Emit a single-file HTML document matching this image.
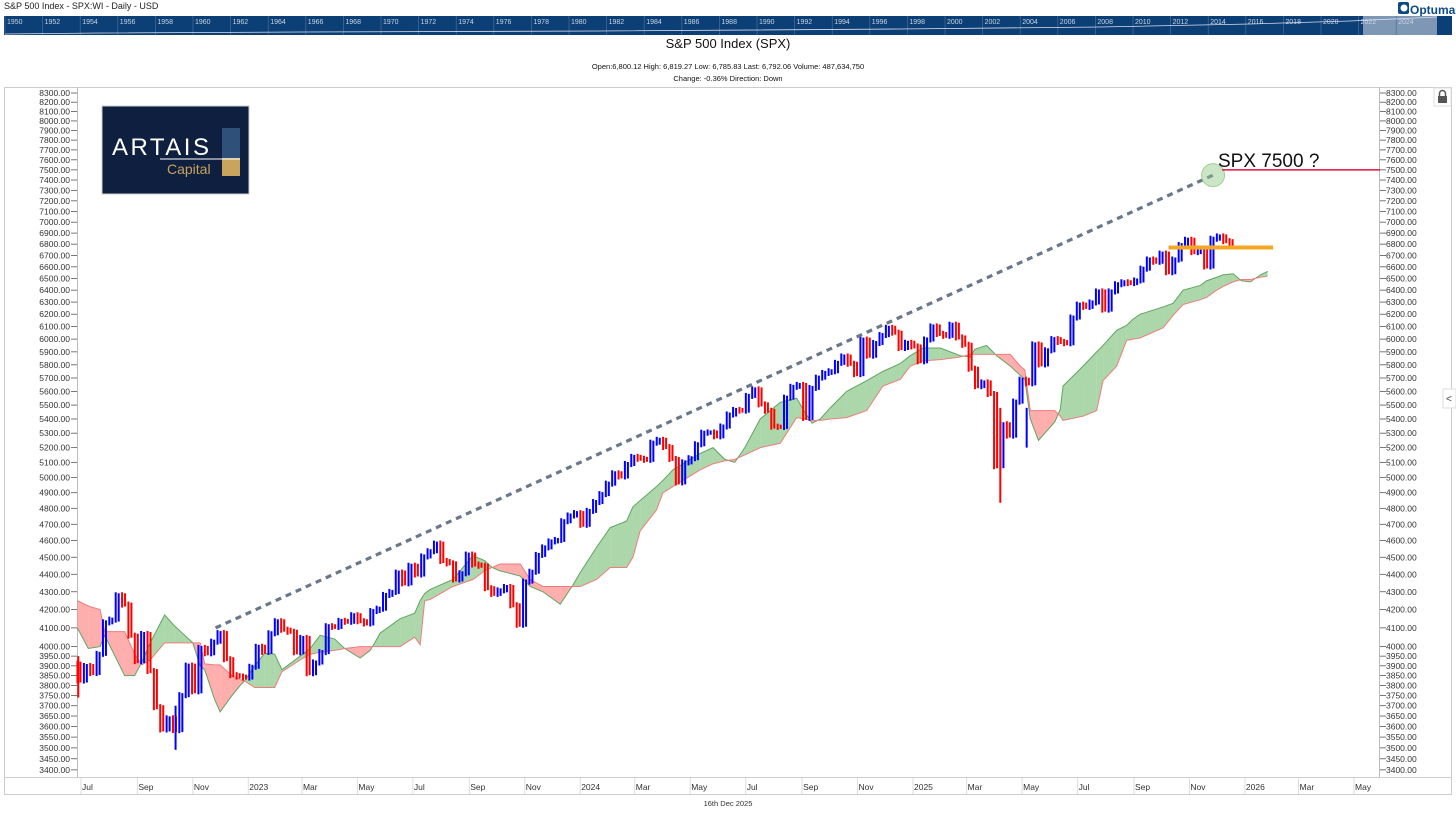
<!DOCTYPE html>
<html><head><meta charset="utf-8"><style>
body{margin:0;background:#fff;width:1456px;height:816px;overflow:hidden;font-family:"Liberation Sans",sans-serif}
svg{display:block}
</style></head><body>
<svg id="c" width="1456" height="816" viewBox="0 0 1456 816" xmlns="http://www.w3.org/2000/svg">
<text x="4" y="9" font-size="9" fill="#222">S&amp;P 500 Index - SPX:WI - Daily - USD</text>
<g>
<rect x="1398" y="2" width="11" height="12" rx="2" fill="#0b4a8a"/><circle cx="1404" cy="8" r="3.5" fill="#fff"/>
<text x="1410" y="14" font-size="12" font-weight="bold" fill="#0b4a8a">Optuma</text></g>
<g id="nav"><rect x="4" y="16" width="1448" height="19" fill="#0c3f75"/>
<rect x="1363" y="16" width="74" height="19" fill="#7d97b5"/></g>
<text x="728" y="48" text-anchor="middle" font-size="13" fill="#111">S&amp;P 500 Index (SPX)</text>
<text x="728" y="69" text-anchor="middle" font-size="7.5" fill="#111">Open:6,800.12   High: 6,819.27   Low: 6,785.83   Last: 6,792.06   Volume: 487,634,750</text>
<text x="728" y="81" text-anchor="middle" font-size="7.5" fill="#111">Change: -0.36%   Direction: Down</text>
<rect x="4.5" y="87.5" width="1447" height="707" fill="none" stroke="#ccc"/>
<line x1="77.5" y1="87" x2="77.5" y2="777" stroke="#bbb"/>
<line x1="1379.5" y1="87" x2="1379.5" y2="777" stroke="#bbb"/>
<line x1="4" y1="777.5" x2="1452" y2="777.5" stroke="#ccc"/>
<g id="yl"></g>
<g id="yr"></g>
<g id="xa"></g>
<g id="cloud"></g>
<g id="bars"></g>
<g id="anno"></g>
<g>
<rect x="102" y="106" width="147" height="88" fill="#0f1f3f" stroke="#ccc"/>
<text x="112" y="155" font-size="24" fill="#fff" letter-spacing="2.5">ARTAIS</text>
<rect x="222" y="128" width="18" height="30" fill="#2f5078"/>
<rect x="222" y="158" width="18" height="18" fill="#c9a45c"/>
<line x1="160" y1="159" x2="240" y2="159" stroke="#fff" stroke-width="1"/>
<text x="167" y="174" font-size="14" fill="#c9a45c">Capital</text></g>
<g><rect x="1434" y="88" width="17" height="18" fill="#fff" stroke="#ddd"/>
<rect x="1438" y="96" width="9" height="7" fill="#555"/><path d="M1439.5 96v-2.5a3 3 0 0 1 6 0V96" fill="none" stroke="#555" stroke-width="1.5"/></g>
<g><rect x="1443" y="389" width="13" height="19" fill="#fff" stroke="#ddd"/>
<text x="1446" y="402" font-size="10" fill="#444">&lt;</text></g>
<text x="728" y="806" text-anchor="middle" font-size="7.5" fill="#333">16th Dec 2025</text>
</svg>
<script>
const yTicks=[8300,8200,8100,8000,7900,7800,7700,7600,7500,7400,7300,7200,7100,7000,6900,6800,6700,6600,6500,6400,6300,6200,6100,6000,5900,5800,5700,5600,5500,5400,5300,5200,5100,5000,4900,4800,4700,4600,4500,4400,4300,4200,4100,4000,3950,3900,3850,3800,3750,3700,3650,3600,3550,3500,3450,3400];
const monthLabels=["Jul","Sep","Nov","2023","Mar","May","Jul","Sep","Nov","2024","Mar","May","Jul","Sep","Nov","2025","Mar","May","Jul","Sep","Nov","2026","Mar","May"];
const monthDates=["2022-07-01","2022-09-01","2022-11-01","2023-01-01","2023-03-01","2023-05-01","2023-07-01","2023-09-01","2023-11-01","2024-01-01","2024-03-01","2024-05-01","2024-07-01","2024-09-01","2024-11-01","2025-01-01","2025-03-01","2025-05-01","2025-07-01","2025-09-01","2025-11-01","2026-01-01","2026-03-01","2026-05-01"];
const firstWeekDay=-7; // 2022-06-24, days from 2022-07-01
const weeklyCloses=[3911,3825,3899,3863,3962,4130,4145,4280,4228,4058,3924,4067,3873,3693,3586,3639,3583,3752,3901,3771,3993,3965,4026,4072,3934,3852,3845,3840,
3895,3999,3972,4071,4136,4090,4079,3970,4046,3862,3917,3971,4109,4105,4138,4133,4169,4136,4124,4192,4205,4282,4299,4410,4348,4450,4399,4505,4536,4582,4478,4464,4370,4406,4516,4457,4450,4320,4288,4308,4327,4224,4117,4358,4415,4514,4559,4595,4604,4719,4755,4770,
4697,4784,4840,4891,4959,5027,5006,5089,5137,5124,5117,5234,5254,5204,5123,4967,5100,5128,5223,5303,5305,5278,5347,5432,5465,5460,5567,5615,5505,5459,5346,5344,5554,5634,5648,5408,5626,5703,5738,5751,5815,5864,5808,5729,5996,5870,5969,6032,6090,6051,5930,5971,
5942,5827,5997,6101,6041,6026,6115,6013,5955,5770,5639,5667,5581,5074,5363,5283,5525,5687,5660,5958,5803,5912,6000,5977,5967,6173,6279,6260,6297,6389,6238,6389,6450,6467,6460,6482,6584,6664,6644,6716,6553,6664,6792,6840,6729,6734,6603,6849,6870,6827,6792];
const wickDays=[-3,104,1011,1040];
const wickLows=[3740,3491,4835,5200];
const wickHighs=[3950,3700,5480,5480];
const cloudDays=[-4,8,21,26,48,59,67,76,92,103,114,123,131,136,147,153,166,175,181,191,202,213,221,241,252,263,279,290,307,318,323,329,351,367,373,378,384,409,431,444,452,461,483,494,508,527,540,549,567,582,600,607,615,633,640,651,681,695,708,719,730,747,769,787,796,804,813,824,842,864,882,901,912,926,945,967,978,983,996,1007,1022,1033,1038,1044,1053,1060,1071,1077,1080,1102,1117,1124,1139,1150,1157,1165,1190,1201,1212,1231,1238,1249,1256,1267,1276,1286,1297,1305];
const spanA=[4100,3990,4000,4060,3850,3850,3920,4020,4170,4110,4060,4020,3900,3880,3730,3670,3750,3800,3830,3900,3965,3960,3880,3950,3990,4060,4040,3990,3940,3980,4020,4072,4150,4180,4250,4290,4313,4370,4510,4480,4440,4420,4390,4330,4300,4230,4330,4410,4560,4680,4720,4810,4850,4940,4980,5050,5160,5200,5120,5100,5200,5400,5520,5550,5450,5370,5400,5480,5600,5680,5750,5810,5870,5930,5930,5870,5860,5920,5950,5870,5790,5720,5690,5400,5250,5300,5380,5470,5640,5790,5900,5950,6070,6110,6160,6200,6260,6290,6400,6440,6480,6510,6530,6540,6480,6470,6530,6560];
const spanB=[4250,4220,4200,4080,4080,3960,3905,3930,4020,4020,4020,4020,4020,3910,3905,3905,3850,3830,3820,3790,3790,3790,3870,3930,3960,3970,3980,3990,4000,4000,4000,4000,4000,4050,4010,4250,4256,4330,4370,4420,4440,4460,4460,4370,4330,4330,4330,4330,4370,4440,4440,4500,4660,4790,4900,4940,5050,5090,5110,5120,5150,5200,5230,5410,5400,5390,5390,5400,5410,5460,5640,5690,5790,5830,5840,5860,5880,5880,5880,5880,5880,5790,5760,5460,5460,5460,5460,5420,5390,5420,5460,5680,5790,5990,6000,6010,6090,6190,6280,6320,6340,6400,6430,6470,6490,6490,6510,6520];
const trendDays=[148,1245];
const trendValues=[4100,7448];
const targetValue=7500;
const supportValue=6770;
const supportDays=[1196,1311];

const NS='http://www.w3.org/2000/svg';
const D0=Date.UTC(2022,6,1);
function xs(d){return 81+d*0.9093;}
function ys(v){return 93+(Math.log(8300)-Math.log(v))*758.4;}
function dayOf(s){const p=s.split('-');return (Date.UTC(+p[0],+p[1]-1,+p[2])-D0)/86400000;}
function mk(tag,parent,attrs){const e=document.createElementNS(NS,tag);for(const k in attrs)e.setAttribute(k,attrs[k]);parent.appendChild(e);return e;}

const yl=document.getElementById('yl'),yr=document.getElementById('yr');
yTicks.forEach(v=>{const y=ys(v);
 const t=mk('text',yl,{x:70,y:y+3,'text-anchor':'end','font-size':8.5,fill:'#333'});t.textContent=v.toFixed(2);
 
 
 mk('line',yl,{x1:71,x2:77,y1:y,y2:y,stroke:'#555','stroke-width':0.8});
 const t2=mk('text',yr,{x:1386,y:y+3,'font-size':8.5,fill:'#333'});t2.textContent=v.toFixed(2);
 
 
 mk('line',yr,{x1:1380,x2:1386,y1:y,y2:y,stroke:'#555','stroke-width':0.8});
});
const xa=document.getElementById('xa');
monthDates.forEach((s,i)=>{const x=xs(dayOf(s));
 mk('line',xa,{x1:x,x2:x,y1:778,y2:794,stroke:'#ddd'});
 const t=mk('text',xa,{x:x+1,y:790,'font-size':8.5,fill:'#333'});t.textContent=monthLabels[i];
 
 
});
const nav=document.getElementById('nav');
for(let yr2=1950;yr2<=2024;yr2+=2){const x=5+(yr2-1950)/2*37.6;
 mk('line',nav,{x1:x,x2:x,y1:16,y2:35,stroke:'#4a6e98','stroke-width':0.7});
 const t=mk('text',nav,{x:x+2,y:24,'font-size':7,fill:'#c8d6e6'});t.textContent=yr2;}
mk('polyline',nav,{points:'5,34 100,33 300,32 600,31 900,29 1100,27 1250,24 1350,21 1437,17',fill:'none',stroke:'#dde','stroke-width':0.8});

const cg=document.getElementById('cloud');
const G='rgba(120,190,120,0.62)',R='rgba(255,130,130,0.65)';
for(let i=0;i<cloudDays.length-1;i++){
 const x1=xs(cloudDays[i]),x2=xs(cloudDays[i+1]);
 const a1=ys(spanA[i]),a2=ys(spanA[i+1]),b1=ys(spanB[i]),b2=ys(spanB[i+1]);
 const s1=spanA[i]-spanB[i],s2=spanA[i+1]-spanB[i+1];
 if(s1*s2<0){const t=s1/(s1-s2);const xm=x1+(x2-x1)*t,ym=a1+(a2-a1)*t;
  const p1=mk('polygon',cg,{points:`${x1},${a1} ${xm},${ym} ${x1},${b1}`,fill:s1>0?G:R});
  
  
  const p2=mk('polygon',cg,{points:`${xm},${ym} ${x2},${a2} ${x2},${b2}`,fill:s2>0?G:R});
  
  
 }else{const p=mk('polygon',cg,{points:`${x1},${a1} ${x2},${a2} ${x2},${b2} ${x1},${b1}`,fill:(s1+s2)>=0?G:R});
  
  }
}
const la=mk('polyline',cg,{points:cloudDays.map((d,i)=>xs(d)+','+ys(spanA[i])).join(' '),fill:'none',stroke:'#5fa55f','stroke-width':1});


const lb=mk('polyline',cg,{points:cloudDays.map((d,i)=>xs(d)+','+ys(spanB[i])).join(' '),fill:'none',stroke:'#f07c7c','stroke-width':1});



const bg=document.getElementById('bars');
for(let i=1;i<weeklyCloses.length;i++){
 const d=firstWeekDay+i*7,o=weeklyCloses[i-1],c=weeklyCloses[i];
 const hi=Math.max(o,c),lo=Math.min(o,c);
 const yt=ys(hi),yb=ys(lo);
 const col=c>=o?'#0000ff':'#ff0000';
 const r=mk('rect',bg,{x:xs(d)-4.5,y:yt-3,width:2,height:Math.max(6,yb-yt+6),fill:col});
 
 
 const r2=mk('rect',bg,{x:xs(d)-1.5,y:yt-2,width:2,height:Math.max(4,yb-yt+4),fill:col});
 
 
}
wickDays.forEach((d,i)=>{const w=mk('rect',bg,{x:xs(d)-1,y:ys(wickHighs[i]),width:2,height:ys(wickLows[i])-ys(wickHighs[i]),fill:i%2?'#0000ff':'#ff0000'});
 
 });

const an=document.getElementById('anno');
const tl=mk('line',an,{x1:xs(trendDays[0]),y1:ys(trendValues[0]),x2:xs(trendDays[1]),y2:ys(trendValues[1]),stroke:'#6b7889','stroke-width':3.2,'stroke-dasharray':'6 5'});


const ci=mk('circle',an,{cx:xs(trendDays[1]),cy:ys(trendValues[1]),r:11.5,fill:'rgba(140,200,130,0.45)',stroke:'#9fcf95','stroke-width':1});


const tgt=mk('line',an,{x1:xs(trendDays[1])+9,x2:1380,y1:ys(targetValue),y2:ys(targetValue),stroke:'#e0103a','stroke-width':1.6});


const tt=mk('text',an,{x:1218,y:ys(targetValue)-3,'font-size':19,fill:'#111'});tt.textContent='SPX 7500 ?';


const sl=mk('line',an,{x1:xs(supportDays[0]),x2:xs(supportDays[1]),y1:ys(supportValue),y2:ys(supportValue),stroke:'#f5a623','stroke-width':4});


</script>
</body></html>
